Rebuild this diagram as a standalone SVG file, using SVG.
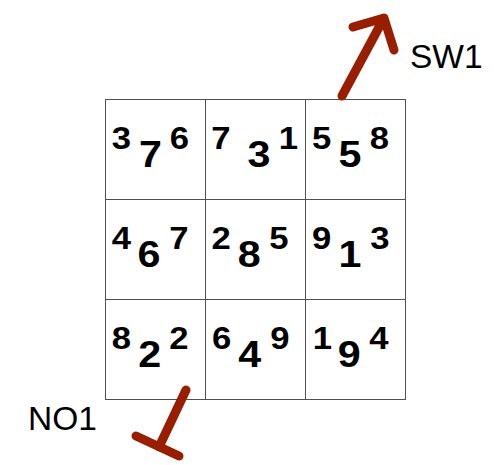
<svg xmlns="http://www.w3.org/2000/svg" width="494" height="465" viewBox="0 0 494 465">
<style>
.cell{fill:#fff;stroke:#505050;stroke-width:1}
.s,.b{font-family:"Liberation Sans",Arial,sans-serif;font-weight:bold;fill:#000;text-anchor:middle;transform-box:fill-box;transform-origin:center;transform:scaleX(1.1)}
.s{font-size:31.5px}
.b{font-size:37.5px}
.lbl{font-family:"Liberation Sans",Arial,sans-serif;font-size:33.5px;fill:#000}
.arr{fill:none;stroke:#991e00;stroke-width:9;stroke-linecap:round;stroke-linejoin:round}
</style>
<rect width="494" height="465" fill="#fff"/>
<g id="c1"><rect class="cell" x="105.5" y="99.5" width="100" height="100"/><text class="s" x="121.5" y="149">3</text><text class="b" x="150.5" y="167">7</text><text class="s" x="179.5" y="149">6</text></g>
<g id="c2"><rect class="cell" x="205.5" y="99.5" width="100" height="100"/><text class="s" x="220.8" y="149">7</text><text class="b" x="259" y="167">3</text><text class="s" x="288.5" y="149">1</text></g>
<g id="c3"><rect class="cell" x="305.5" y="99.5" width="100" height="100"/><text class="s" x="321.7" y="149">5</text><text class="b" x="350" y="167">5</text><text class="s" x="379.5" y="149">8</text></g>
<g id="c4"><rect class="cell" x="105.5" y="199.5" width="100" height="100"/><text class="s" x="121.3" y="249.5">4</text><text class="b" x="149" y="267.5">6</text><text class="s" x="179" y="249.5">7</text></g>
<g id="c5"><rect class="cell" x="205.5" y="199.5" width="100" height="100"/><text class="s" x="221.2" y="249.5">2</text><text class="b" x="249.2" y="267.5">8</text><text class="s" x="279" y="249.5">5</text></g>
<g id="c6"><rect class="cell" x="305.5" y="199.5" width="100" height="100"/><text class="s" x="321.7" y="249.5">9</text><text class="b" x="350" y="267.5">1</text><text class="s" x="380" y="249.5">3</text></g>
<g id="c7"><rect class="cell" x="105.5" y="299.5" width="100" height="100"/><text class="s" x="121.3" y="349.5">8</text><text class="b" x="149.7" y="367.5">2</text><text class="s" x="179" y="349.5">2</text></g>
<g id="c8"><rect class="cell" x="205.5" y="299.5" width="100" height="100"/><text class="s" x="221.7" y="349.5">6</text><text class="b" x="249.7" y="367.5">4</text><text class="s" x="280" y="349.5">9</text></g>
<g id="c9"><rect class="cell" x="305.5" y="299.5" width="100" height="100"/><text class="s" x="322.3" y="349.5">1</text><text class="b" x="349.2" y="367.5">9</text><text class="s" x="379" y="349.5">4</text></g>
<g id="connectors">
<path class="arr" d="M342,96 L384,18 M353,27 L384,18 L394,50"/>
<path class="arr" d="M186,390 L159,447 M136,436 L179,456"/>
</g>
<g id="labels">
<text class="lbl" x="410" y="68">SW1</text>
<text class="lbl" x="28" y="430">NO1</text>
</g>
</svg>
